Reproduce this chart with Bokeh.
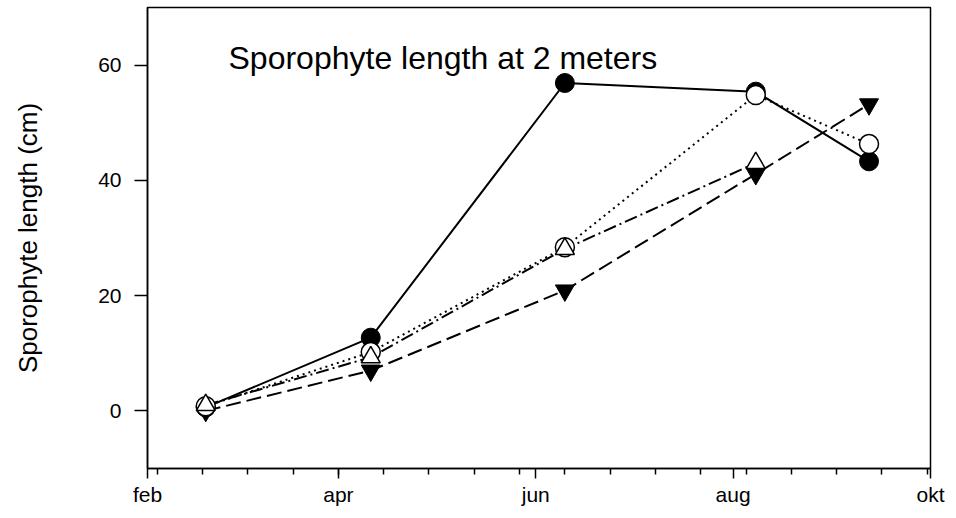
import pandas as pd
from bokeh.plotting import figure
from bokeh.models import FixedTicker, Label, Range1d
from bokeh.embed import file_html
from bokeh.resources import INLINE

# ---- data ----
dates = ["2005-02-19", "2005-04-11", "2005-06-10", "2005-08-08", "2005-09-12"]
filled_circle = [0.6, 12.7, 56.9, 55.4, 43.3]
open_circle = [0.8, 10.2, 28.4, 54.8, 46.3]
open_triangle_dates = ["2005-02-19", "2005-04-11", "2005-06-10", "2005-08-08"]
open_triangle = [1.0, 9.3, 28.1, 43.0]
filled_triangle = [0.0, 7.0, 20.9, 41.1, 53.2]

month_ticks = ["2005-02-01", "2005-04-01", "2005-06-01", "2005-08-01", "2005-10-01"]
month_labels = ["feb", "apr", "jun", "aug", "okt"]
y_ticks = [0, 20, 40, 60]
title_text = "Sporophyte length at 2 meters"
y_label = "Sporophyte length (cm)"

FONT = "Liberation Sans"


def ms(d):
    return float(pd.Timestamp(d).value // 10**6)


x = pd.to_datetime(dates)
x_tri = pd.to_datetime(open_triangle_dates)

p = figure(width=945, height=508, output_backend="svg", toolbar_location=None,
           x_axis_type="datetime",
           x_range=Range1d(pd.Timestamp("2005-02-01"), pd.Timestamp("2005-10-01")),
           y_range=Range1d(-10, 70),
           min_border_left=147, min_border_right=15, min_border_top=7, min_border_bottom=40)

p.xgrid.visible = False
p.ygrid.visible = False
p.outline_line_color = "black"
p.outline_line_width = 1.5
p.background_fill_color = "white"
p.border_fill_color = "white"

MS = 19
# series
p.line(x, filled_circle, line_color="black", line_width=2)
p.line(x, filled_triangle, line_color="black", line_width=2, line_dash="15 6")
p.line(x, open_circle, line_color="black", line_width=2, line_dash="2 4")
p.line(x_tri, open_triangle, line_color="black", line_width=2, line_dash="13 4 2 4")

p.scatter(x, filled_circle, marker="circle", size=MS, fill_color="black", line_color="black")
p.scatter(x, filled_triangle, marker="inverted_triangle", size=MS, fill_color="black", line_color="black")
p.scatter(x, open_circle, marker="circle", size=MS, fill_color="white", line_color="black", line_width=1.5)
p.scatter(x_tri, open_triangle, marker="triangle", size=MS, fill_color="white", line_color="black", line_width=1.5)

# x axis
minor = [ms(d) for d in pd.date_range("2005-02-04", periods=18, freq="14D")]
major = [ms(d) for d in month_ticks]
p.xaxis.ticker = FixedTicker(ticks=major, minor_ticks=minor)
p.xaxis.major_label_overrides = {k: v for k, v in zip(major, month_labels)}
p.xaxis.major_tick_in = 0
p.xaxis.major_tick_out = 10
p.xaxis.minor_tick_in = 0
p.xaxis.minor_tick_out = 6
p.xaxis.major_label_standoff = 4

# y axis
p.yaxis.ticker = FixedTicker(ticks=y_ticks, minor_ticks=[])
p.yaxis.major_tick_in = 0
p.yaxis.major_tick_out = 13
p.yaxis.minor_tick_in = 0
p.yaxis.minor_tick_out = 0
p.yaxis.major_label_standoff = 13
p.yaxis.axis_label = y_label
p.yaxis.axis_label_standoff = 52

for ax in (p.xaxis[0], p.yaxis[0]):
    ax.axis_line_color = "black"
    ax.axis_line_width = 1.5
    ax.major_tick_line_color = "black"
    ax.major_tick_line_width = 1.5
    ax.minor_tick_line_color = "black"
    ax.minor_tick_line_width = 1.5
    ax.major_label_text_font = FONT
    ax.major_label_text_font_size = "21px"
    ax.major_label_text_color = "black"
    ax.axis_label_text_font = FONT
    ax.axis_label_text_font_size = "26px"
    ax.axis_label_text_font_style = "normal"
    ax.axis_label_text_color = "black"

p.add_layout(Label(x=81, y=411, x_units="screen", y_units="screen", text=title_text,
                   text_font=FONT, text_font_size="32px", text_color="black",
                   text_baseline="alphabetic"))

open("out.html", "w").write(file_html(p, INLINE))
